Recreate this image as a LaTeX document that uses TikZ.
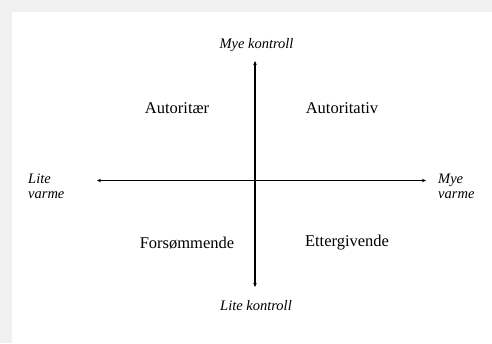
\documentclass[tikz,border=0pt]{standalone}
\usepackage{fontspec}
\setmainfont{Liberation Serif}
\usetikzlibrary{arrows.meta}
\begin{document}
\begin{tikzpicture}[x=1pt,y=-1pt,
  quad/.style={anchor=base,font=\fontsize{16.5}{18}\selectfont,inner sep=0pt},
  axlab/.style={anchor=base,font=\fontsize{14.5}{14}\itshape\selectfont,inner sep=0pt},
  sidelab/.style={anchor=base west,align=left,font=\fontsize{14.5}{14.7}\itshape\selectfont,inner sep=0pt},
  tip/.style={Stealth[length=4pt,width=3.5pt]}]
\fill[gray!12] (0,0) rectangle (492,343);
\fill[white] (12,12) rectangle (492,343);
\useasboundingbox (0,0) rectangle (492,343);
\coordinate (top) at (255,61);
\coordinate (bot) at (255,287);
\coordinate (lft) at (97,180.5);
\coordinate (rgt) at (426,180.5);
\draw[line width=1pt,{Stealth[length=4pt,width=3.5pt]}-{Stealth[length=4pt,width=3.5pt]}] (lft) -- (rgt);
\draw[line width=1.4pt,{Stealth[length=4pt,width=3.5pt]}-{Stealth[length=4pt,width=3.5pt]}] (bot) -- (top);
\node[axlab] (mk) at (256.5,48) {Mye kontroll};
\node[axlab] (lk) at (256,310) {Lite kontroll};
\node[sidelab] (lv) at (28,198) {Lite\\varme};
\node[sidelab] (mv) at (438,198) {Mye\\varme};
\node[quad] (a1) at (177,113) {Autoritær};
\node[quad] (a2) at (342,113) {Autoritativ};
\node[quad] (f) at (187,248) {Forsømmende};
\node[quad] (e) at (347,246) {Ettergivende};
\end{tikzpicture}
\end{document}
